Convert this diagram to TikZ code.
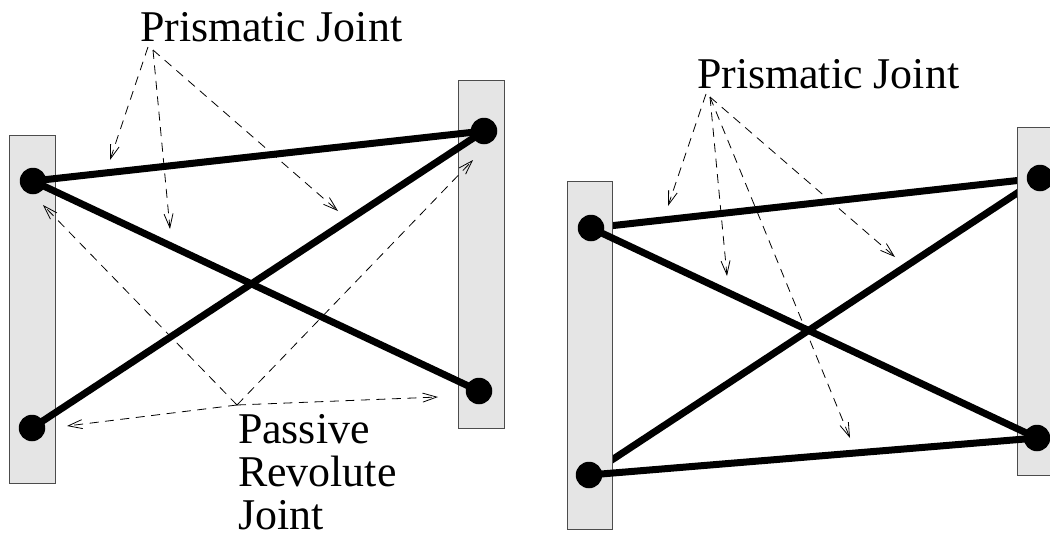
\documentclass[tikz,border=0pt]{standalone}
\usepackage{fontspec}
\setmainfont{Liberation Serif}
\usetikzlibrary{arrows.meta}
\tikzset{
  x=1pt,y=-1pt,
  plate/.style={draw=black!70,fill=black!10,line width=1pt,minimum width=45.5pt,minimum height=348pt,inner sep=0pt,outer sep=0pt},
  joint/.style={circle,fill=black,minimum size=26.5pt,inner sep=0pt,outer sep=0pt},
  link/.style={line width=7pt,line cap=butt},
  pointer/.style={line width=0.8pt,dash pattern=on 9pt off 6.5pt,-{Straight Barb[length=14pt,width=9pt,line width=0.8pt]}},
  lab/.style={font=\fontsize{43.9}{43}\selectfont,inner sep=0pt,outer sep=0pt,anchor=base west,align=left},
}
\begin{document}
\begin{tikzpicture}
\useasboundingbox (0,0) rectangle (1050,533);
% left mechanism
\coordinate (lt1) at (148,47);
\coordinate (lt2) at (153,50);
\coordinate (lp) at (237,405);
\coordinate (la1) at (110,160);
\coordinate (la2) at (170,229);
\coordinate (la3) at (338,211);
\coordinate (lb1) at (43,205);
\coordinate (lb2) at (473,160);
\coordinate (lb3) at (67,426);
\coordinate (lb4) at (438,397);
\node[plate] (pl1) at (32.5,309) {};
\node[plate] (pl2) at (481.5,254) {};
\node[joint] (j1) at (33,181) {};
\node[joint] (j2) at (32,428) {};
\node[joint] (j3) at (484,131) {};
\node[joint] (j4) at (479,391) {};
\draw[pointer] (lt1) -- (la1);
\draw[pointer] (lt2) -- (la2);
\draw[pointer] (lt2) -- (la3);
\draw[pointer] (lp) -- (lb1);
\draw[pointer] (lp) -- (lb2);
\draw[pointer] (lp) -- (lb3);
\draw[pointer] (lp) -- (lb4);
\draw[link] (j1.center) -- (j3.center);
\draw[link] (j1.center) -- (j4.center);
\draw[link] (j2.center) -- (j3.center);
\node[lab] (t1) at (140,41) {Prismatic Joint};
\node[lab] (t2) at (238,443) {Passive};
\node[lab] (t3) at (238,486) {Revolute};
\node[lab] (t4) at (238,529) {Joint};
% right mechanism
\coordinate (rt1) at (706,94);
\coordinate (rt2) at (710,97);
\coordinate (ra1) at (668,206);
\coordinate (ra2) at (727,276);
\coordinate (ra3) at (850,438);
\coordinate (ra4) at (895,257);
\coordinate (k1) at (591,228);
\coordinate (k2) at (589,475);
\coordinate (k3) at (1040,178);
\coordinate (k4) at (1037,438);
\draw[link] (k1) -- (k3);
\draw[link] (k2) -- (k3);
\node[plate] (pl3) at (590,355.5) {};
\node[plate] (pl4) at (1040,301) {};
\node[joint] (m1) at (k1) {};
\node[joint] (m2) at (k2) {};
\node[joint] (m3) at (k3) {};
\node[joint] (m4) at (k4) {};
\draw[pointer] (rt1) -- (ra1);
\draw[pointer] (rt2) -- (ra2);
\draw[pointer] (rt2) -- (ra3);
\draw[pointer] (rt2) -- (ra4);
\draw[link] (m1.center) -- (m4.center);
\draw[link] (m2.center) -- (m4.center);
\node[lab] (t5) at (697,88) {Prismatic Joint};
\end{tikzpicture}
\end{document}
